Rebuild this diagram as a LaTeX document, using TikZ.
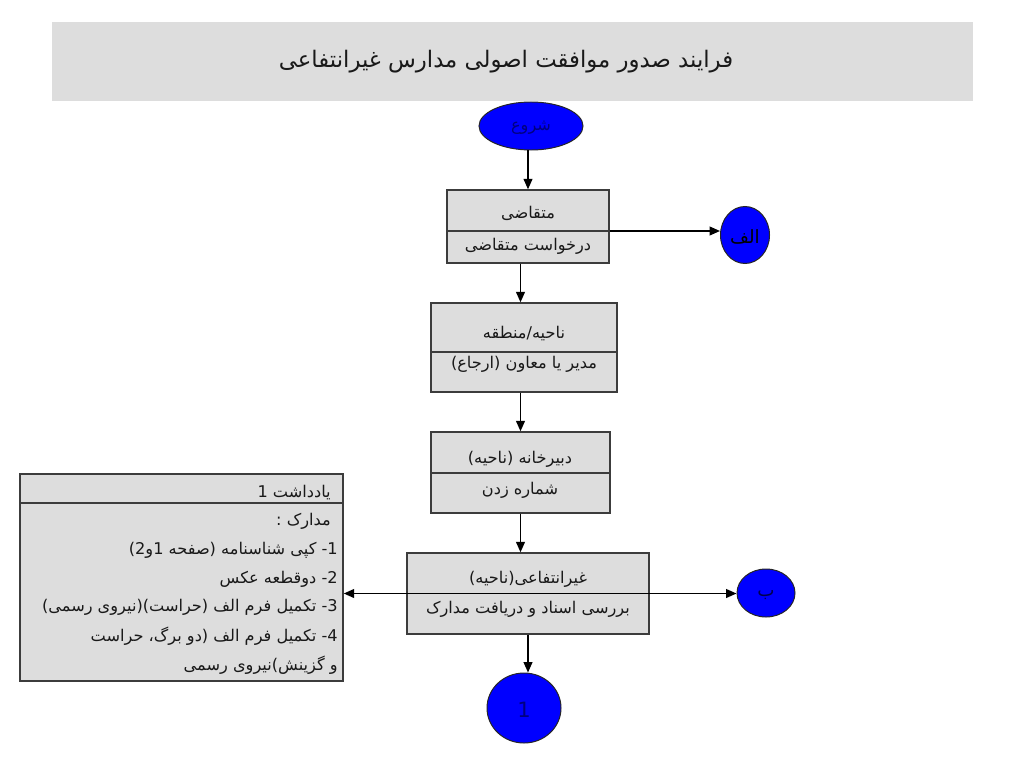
\documentclass[tikz,border=0pt]{standalone}
\usepackage{fontspec}
\usepackage{tikz}
\usetikzlibrary{shapes.geometric, arrows.meta, positioning}
\TeXXeTstate=1
\newfontfamily\farsi[Script=Arabic]{DejaVu Sans}
\newcommand{\fa}[1]{\beginR #1\endR}
\definecolor{boxgray}{HTML}{DDDDDD}
\definecolor{edgegray}{HTML}{3C3C3C}
\definecolor{termblue}{HTML}{0000FF}
\definecolor{termtext}{HTML}{000080}

\tikzset{
  stepbox/.style={draw=edgegray, fill=boxgray, line width=1pt, inner sep=0pt},
  divider/.style={draw=edgegray, line width=0.9pt},
  term/.style={ellipse, draw=black!85, fill=termblue, line width=0.7pt, inner sep=0pt},
  txt/.style={font=\farsi\fontsize{11.5}{13}\selectfont, text=black!90, inner sep=0pt},
  arr/.style={line width=1.1pt, -{Triangle[length=2.6mm, width=2.2mm]}},
}

\begin{document}
\begin{tikzpicture}[x=0.025cm, y=-0.025cm]
\useasboundingbox (0,0) rectangle (1024,768);
% Title banner
\fill[boxgray] (52,22) rectangle (973,101);
\node[txt, font=\farsi\fontsize{16.2}{19}\selectfont] (title) at (506,62) {\fa{فرایند صدور موافقت اصولی مدارس غیرانتفاعی}};

% Start
\node[term, minimum width=2.6cm, minimum height=1.2cm] (start) at (531,126) {};
\node[txt, text=termtext] (startt) at (531,128) {\fa{شروع}};

% Box 1: applicant
\node[stepbox, minimum width=4.05cm, minimum height=1.825cm] (b1) at (528,226.5) {};
\node[txt] (b1a) at (528,213) {\fa{متقاضی}};
\node[txt] (b1b) at (528,246) {\fa{درخواست متقاضی}};
\coordinate (d1) at (447,231);

% Box 2: district
\node[stepbox, minimum width=4.65cm, minimum height=2.225cm] (b2) at (524,347.5) {};
\draw[divider] (b2.west |- 0,352) -- (b2.east |- 0,352);
\node[txt] (b2a) at (524,334) {\fa{ناحیه/منطقه}};
\node[txt] (b2b) at (524,364) {\fa{مدیر یا معاون (ارجاع)}};

% Box 3: secretariat
\node[stepbox, minimum width=4.475cm, minimum height=2.025cm] (b3) at (520.5,472.5) {};
\draw[divider] (b3.west |- 0,473) -- (b3.east |- 0,473);
\node[txt] (b3a) at (520,459) {\fa{دبیرخانه (ناحیه)}};
\node[txt] (b3b) at (520,490) {\fa{شماره زدن}};

% Box 4: non-profit office
\node[stepbox, minimum width=6.05cm, minimum height=2.025cm] (b4) at (528,593.5) {};
\node[txt] (b4a) at (528,579) {\fa{غیرانتفاعی(ناحیه)}};
\node[txt] (b4b) at (528,609) {\fa{بررسی اسناد و دریافت مدارک}};

% Note box
\node[stepbox, minimum width=8.075cm, minimum height=5.175cm] (note) at (181.5,577.5) {};
\draw[divider] (note.west |- 0,503) -- (note.east |- 0,503);
\node[txt, anchor=east] (n0) at (331,493) {\fa{یادداشت 1}};
\node[txt, anchor=east] (n1) at (331,521) {\fa{مدارک :}};
\node[txt, anchor=east] (n2) at (338,550) {\fa{1- کپی شناسنامه (صفحه 1و2)}};
\node[txt, anchor=east] (n3) at (338,579) {\fa{2- دوقطعه عکس}};
\node[txt, anchor=east] (n4) at (338,607) {\fa{3- تکمیل فرم الف (حراست)(نیروی رسمی)}};
\node[txt, anchor=east] (n5) at (338,636) {\fa{4- تکمیل فرم الف (دو برگ، حراست}};
\node[txt, anchor=east] (n6) at (338,665) {\fa{و گزینش)نیروی رسمی}};

% Connectors
\node[term, minimum width=1.225cm, minimum height=1.425cm] (alef) at (745,235) {};
\node[txt, font=\farsi\fontsize{13}{15}\selectfont, text=black] (aleft) at (745,237) {\fa{الف}};
\node[term, minimum width=1.45cm, minimum height=1.2cm] (be) at (766,593) {};
\node[txt, font=\farsi\fontsize{13}{15}\selectfont, text=termtext!60!black] (bet) at (766,595) {\fa{ب}};
\node[term, minimum width=1.85cm, minimum height=1.75cm] (one) at (524,708) {};
\node[txt, font=\farsi\fontsize{15}{17}\selectfont, text=termtext] (onet) at (524,710) {1};

% Flow
\draw[arr] (start.south -| b1) -- (b1.north);
\draw[divider] (d1) -- (d1 -| b1.east);
\draw[arr] (d1 -| b1.east) -- (d1 -| alef.west);
\draw[arr] (b1.south -| b3) -- (b2.north -| b3);
\draw[arr] (b2.south -| b3) -- (b3.north);
\draw[arr] (b3.south) -- (b4.north -| b3);
\draw[line width=1.1pt, {Triangle[length=2.6mm, width=2.2mm]}-{Triangle[length=2.6mm, width=2.2mm]}] (b4.west -| note.east) -- (b4.east -| be.west);
\draw[arr] (b4.south) -- (b4.south |- one.north);
\end{tikzpicture}
\end{document}
